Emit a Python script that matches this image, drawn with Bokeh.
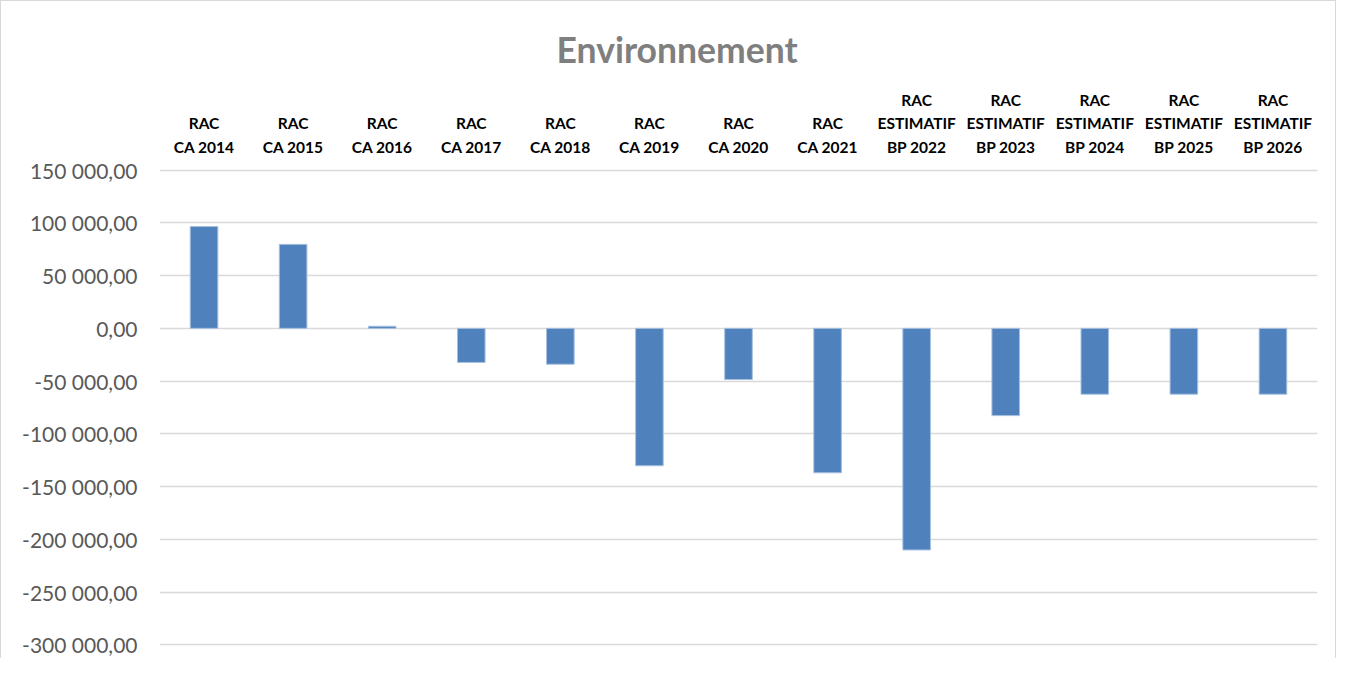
from bokeh.plotting import figure
from bokeh.models import FactorRange, Range1d, FixedTicker, ColumnDataSource
from bokeh.embed import file_html
from bokeh.resources import INLINE

categories = [
    "RAC\nCA 2014", "RAC\nCA 2015", "RAC\nCA 2016", "RAC\nCA 2017",
    "RAC\nCA 2018", "RAC\nCA 2019", "RAC\nCA 2020", "RAC\nCA 2021",
    "RAC\nESTIMATIF\nBP 2022", "RAC\nESTIMATIF\nBP 2023",
    "RAC\nESTIMATIF\nBP 2024", "RAC\nESTIMATIF\nBP 2025",
    "RAC\nESTIMATIF\nBP 2026",
]
values = [96500, 79600, 2000, -32300, -34000, -130200, -48500, -136900,
          -210000, -82700, -62400, -62400, -62400]
y_ticks = [-300000, -250000, -200000, -150000, -100000, -50000, 0,
           50000, 100000, 150000]


def fmt(v):
    s = "{:,.2f}".format(abs(v)).replace(",", " ").replace(".", ",")
    return ("-" if v < 0 else "") + s


src = ColumnDataSource(dict(cat=categories, val=values))

p = figure(
    width=1336, height=658,
    x_range=FactorRange(*categories, range_padding=0),
    y_range=Range1d(-301500, 151500),
    x_axis_location="above",
    output_backend="svg", toolbar_location=None,
    min_border_left=158, min_border_right=20, min_border_bottom=13,
    min_border_top=167,
)
p.styles = {
    "border-top": "1.5px solid #d9d9d9",
    "border-left": "1.5px solid #d9d9d9",
    "border-right": "1.5px solid #d9d9d9",
}
p.outline_line_color = None

p.title.text = "Environnement"
p.title.align = "left"
p.title.text_font = "Lato"
p.title.text_font_size = "35.5px"
p.title.text_font_style = "bold"
p.title.text_color = "#7f7f7f"
p.title.offset = 397
p.title.standoff = 34

p.vbar(x="cat", top="val", bottom=0, width=0.31, source=src,
       fill_color="#4F81BD", line_color="#A7C0E0", line_width=1)

xa = p.xaxis[0]
xa.axis_line_color = None
xa.major_tick_line_color = None
xa.minor_tick_line_color = None
xa.major_label_text_font = "Lato"
xa.major_label_text_font_style = "bold"
xa.major_label_text_font_size = "15.5px"
xa.major_label_text_color = "#000000"
xa.major_label_standoff = 7
xa.major_label_text_line_height = 1.3

ya = p.yaxis[0]
ya.ticker = FixedTicker(ticks=y_ticks)
ya.major_label_overrides = {t: fmt(t) for t in y_ticks}
ya.axis_line_color = None
ya.major_tick_line_color = None
ya.minor_tick_line_color = None
ya.major_label_text_font = "Lato"
ya.major_label_text_font_size = "21px"
ya.major_label_text_color = "#595959"
ya.major_label_standoff = 16

p.xgrid.grid_line_color = None
p.ygrid.ticker = FixedTicker(ticks=y_ticks)
p.ygrid.grid_line_color = "#d9d9d9"
p.ygrid.grid_line_width = 1.5

open("out.html", "w").write(file_html(p, INLINE))
